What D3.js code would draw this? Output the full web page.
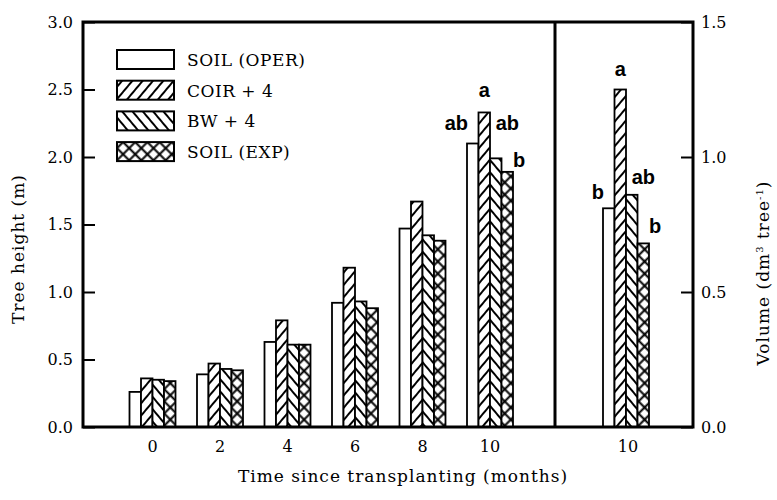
<!DOCTYPE html>
<html>
<head>
<meta charset="utf-8">
<script src="https://cdn.jsdelivr.net/npm/d3@7/dist/d3.min.js"></script>
<style>
  body { margin: 0; background: #fff; }
  text { font-family: "DejaVu Serif", serif; fill: #000; }
  .tick text { font-family: "DejaVu Serif", serif; font-size: 16px; }
  .letter { font-family: "Liberation Sans", Arial, sans-serif; font-weight: bold; font-size: 20px; }
</style>
</head>
<body>
<div class="chart"></div>
<script>
/** Values */
const treatments = ['SOIL (OPER)', 'COIR + 4', 'BW + 4', 'SOIL (EXP)'];
const months = [0, 2, 4, 6, 8, 10];
const soilOper = [0.26, 0.39, 0.63, 0.92, 1.47, 2.10];
const coir4    = [0.36, 0.47, 0.79, 1.18, 1.67, 2.33];
const bw4      = [0.35, 0.43, 0.61, 0.93, 1.42, 1.99];
const soilExp  = [0.34, 0.42, 0.61, 0.88, 1.38, 1.89];
const volume10 = [0.81, 1.25, 0.86, 0.68];
const heightLetters = ['ab', 'a', 'ab', 'b'];   // month 10 only
const volumeLetters = ['b', 'a', 'ab', 'b'];
const heightTicks = [0, 0.5, 1.0, 1.5, 2.0, 2.5, 3.0];
const volumeTicks = [0, 0.5, 1.0, 1.5];

const heightSeries = [soilOper, coir4, bw4, soilExp];

/** Canvas */
let width = 777, height = 500;
let plotLeft = 83, plotRight = 693, plotTop = 22, plotBottom = 427, divider = 555;
let volumeCenter = 626;

let svg = d3.select('.chart').append('svg')
    .attr('width', width)
    .attr('height', height);

/** Fill patterns */
let defs = svg.append('defs');

function makePattern(id, angle, size, cross) {
  let p = defs.append('pattern')
      .attr('id', id)
      .attr('patternUnits', 'userSpaceOnUse')
      .attr('width', size)
      .attr('height', size)
      .attr('patternTransform', 'rotate(' + angle + ')');
  p.append('rect').attr('width', size).attr('height', size).attr('fill', '#fff');
  p.append('line')
      .attr('x1', size / 2).attr('y1', 0)
      .attr('x2', size / 2).attr('y2', size)
      .attr('stroke', '#000').attr('stroke-width', 2);
  if (cross) {
    p.append('line')
        .attr('x1', 0).attr('y1', size / 2)
        .attr('x2', size).attr('y2', size / 2)
        .attr('stroke', '#000').attr('stroke-width', 2);
  }
}
makePattern('coir', 40, 7.9, false);
makePattern('bw', -40, 7.9, false);
makePattern('cross', 45, 8.6, true);

const fills = ['#fff', 'url(#coir)', 'url(#bw)', 'url(#cross)'];

/** Scales */
let xScale = d3.scaleLinear().domain([0, 10]).range([152.5, 490]);
let inner = d3.scaleBand().domain(d3.range(4)).range([-23, 23]);
let yHeight = d3.scaleLinear().domain([0, 3]).range([plotBottom, plotTop]);
let yVolume = d3.scaleLinear().domain([0, 1.5]).range([plotBottom, plotTop]);

/** Height bars */
let heightRows = [];
months.forEach(function (m, i) {
  heightSeries.forEach(function (s, j) {
    heightRows.push({ month: m, series: j, value: s[i] });
  });
});

svg.append('g').selectAll('rect')
    .data(heightRows)
    .enter()
    .append('rect')
    .attr('x', d => xScale(d.month) + inner(d.series))
    .attr('y', d => yHeight(d.value))
    .attr('width', inner.bandwidth())
    .attr('height', d => plotBottom - yHeight(d.value))
    .attr('fill', d => fills[d.series])
    .attr('stroke', '#000')
    .attr('stroke-width', 1.8);

/** Volume bars (month 10) */
svg.append('g').selectAll('rect')
    .data(volume10)
    .enter()
    .append('rect')
    .attr('x', (d, j) => volumeCenter + inner(j))
    .attr('y', d => yVolume(d))
    .attr('width', inner.bandwidth())
    .attr('height', d => plotBottom - yVolume(d))
    .attr('fill', (d, j) => fills[j])
    .attr('stroke', '#000')
    .attr('stroke-width', 1.8);

/** Significance letters */
const letterAnchor = ['end', 'middle', 'start', 'start'];
function letterX(center, j) {
  if (j == 0) return center + inner(j) + 1;
  if (j == 1) return center + inner(j) + inner.bandwidth() / 2;
  if (j == 2) return center + inner(j) + inner.bandwidth() / 2;
  return center + inner(j) + inner.bandwidth();
}
const heightLetterDy = [-14, -15, -28, -5];
const volumeLetterDy = [-9, -14, -11, -10];

svg.append('g').selectAll('text')
    .data(heightLetters)
    .enter()
    .append('text')
    .attr('class', 'letter')
    .attr('x', (d, j) => letterX(xScale(10), j))
    .attr('y', (d, j) => yHeight(heightSeries[j][5]) + heightLetterDy[j])
    .attr('text-anchor', (d, j) => letterAnchor[j])
    .text(d => d);

svg.append('g').selectAll('text')
    .data(volumeLetters)
    .enter()
    .append('text')
    .attr('class', 'letter')
    .attr('x', (d, j) => letterX(volumeCenter, j))
    .attr('y', (d, j) => yVolume(volume10[j]) + volumeLetterDy[j])
    .attr('text-anchor', (d, j) => letterAnchor[j])
    .text(d => d);

/** Axes */
let leftAxis = svg.append('g')
    .attr('transform', 'translate(' + plotLeft + ',0)')
    .call(d3.axisLeft(yHeight).tickValues(heightTicks).tickSize(-12).tickPadding(10).tickFormat(d3.format('.1f')));
let rightAxis = svg.append('g')
    .attr('transform', 'translate(' + plotRight + ',0)')
    .call(d3.axisRight(yVolume).tickValues(volumeTicks).tickSize(-12).tickPadding(8).tickFormat(d3.format('.1f')));
[leftAxis, rightAxis].forEach(function (a) {
  a.select('.domain').remove();
  a.selectAll('.tick line').attr('stroke', '#000').attr('stroke-width', 2);
  a.selectAll('.tick text').attr('fill', '#000');
});

/** Frame and panel divider */
svg.append('rect')
    .attr('x', plotLeft)
    .attr('y', plotTop)
    .attr('width', plotRight - plotLeft)
    .attr('height', plotBottom - plotTop)
    .attr('fill', 'none')
    .attr('stroke', '#000')
    .attr('stroke-width', 3);
svg.append('line')
    .attr('x1', divider).attr('x2', divider)
    .attr('y1', plotTop).attr('y2', plotBottom)
    .attr('stroke', '#000')
    .attr('stroke-width', 3);

/** Month labels */
svg.append('g').selectAll('text')
    .data(months)
    .enter()
    .append('text')
    .attr('x', d => xScale(d))
    .attr('y', 452)
    .attr('text-anchor', 'middle')
    .style('font-size', '16px')
    .text(d => d);
svg.append('text')
    .attr('x', volumeCenter + 2)
    .attr('y', 452)
    .attr('text-anchor', 'middle')
    .style('font-size', '16px')
    .text('10');

/** Legend */
let legend = svg.append('g').attr('transform', 'translate(117,50)');
let rows = legend.selectAll('g')
    .data(treatments)
    .enter()
    .append('g')
    .attr('transform', (d, i) => 'translate(0,' + (i * 30.7) + ')');
rows.append('rect')
    .attr('width', 57)
    .attr('height', 19)
    .attr('fill', (d, i) => fills[i])
    .attr('stroke', '#000')
    .attr('stroke-width', 2);
rows.append('text')
    .attr('x', 70)
    .attr('y', 16)
    .style('font-size', '17px')
    .style('letter-spacing', '0.5px')
    .text(d => d);

/** Axis titles */
svg.append('text')
    .attr('x', 403)
    .attr('y', 482)
    .attr('text-anchor', 'middle')
    .style('font-size', '17px')
    .style('letter-spacing', '1px')
    .text('Time since transplanting (months)');

svg.append('text')
    .attr('transform', 'translate(24,249) rotate(-90)')
    .attr('text-anchor', 'middle')
    .style('font-size', '17px')
    .style('letter-spacing', '1px')
    .text('Tree height (m)');

let vTitle = svg.append('text')
    .attr('transform', 'translate(769,273) rotate(-90)')
    .attr('text-anchor', 'middle')
    .style('font-size', '17px')
    .style('letter-spacing', '1px');
vTitle.append('tspan').text('Volume (dm');
vTitle.append('tspan').attr('dy', -6).style('font-size', '10px').text('3');
vTitle.append('tspan').attr('dy', 6).text(' tree');
vTitle.append('tspan').attr('dy', -6).style('font-size', '10px').text('-1');
vTitle.append('tspan').attr('dy', 6).text(')');
</script>
</body>
</html>
